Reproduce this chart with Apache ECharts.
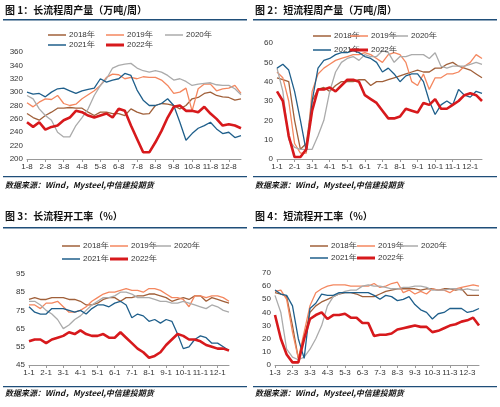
<!DOCTYPE html><html><head><meta charset="utf-8"><script src="https://cdn.jsdelivr.net/npm/echarts@6/dist/echarts.min.js"></script>
<style>html,body{margin:0;padding:0;background:#fff}#c{width:500px;height:407px}</style></head><body><div id="c"></div><script>
const years=['2018年','2019年','2020年','2021年','2022年'];
const colors=['#A0603A','#F4875F','#ABABAB','#1F5F8B','#D7191C'];
const ticks1=['1-8','2-8','3-8','4-8','5-8','6-8','7-8','8-8','9-8','10-8','11-8','12-8'];
const ticks2=['1-1','2-1','3-1','4-1','5-1','6-1','7-1','8-1','9-1','10-1','11-1','12-1'];
const ticks4=['1-3','2-3','3-3','4-3','5-3','6-3','7-3','8-3','9-3','10-3','11-3','12-3'];
// Panel 1: long-process weekly output
const p1_2018=[268,262,258,265,270,276,276,277,276,276,270,265,270,270,268,268,265,275,270,267,268,280,283,282,280,275,280,290,292,298,300,295,293,292,288,290];
const p1_2019=[284,278,285,290,289,295,283,280,282,290,296,302,310,322,327,326,320,322,320,323,322,322,318,310,298,300,306,272,305,312,312,302,305,306,310,298];
const p1_2020=[295,290,275,265,258,240,233,233,250,262,275,295,310,320,336,340,342,343,336,332,330,332,330,325,318,320,316,310,312,313,314,311,310,310,305,296];
const p1_2021=[300,297,298,293,300,305,306,302,298,302,304,306,320,315,318,320,328,325,303,288,280,280,283,290,280,255,228,238,246,250,255,245,238,240,232,235];
const p1_2022=[255,248,255,244,248,250,258,262,272,270,265,262,265,268,262,275,272,250,230,210,210,225,242,262,278,280,272,272,270,278,268,260,250,252,250,246];
// Panel 2: short-process weekly output
const p2_2018=[42,41,40,20,5,8,30,36,37,35,38,40,40,40,41,41,38,40,40,41,42,43,44,45,46,45,45,47,47,49,50,48,47,46,44,42];
const p2_2019=[45,42,30,8,3,3,35,44,47,49,51,52,53,54,54,55,54,52,50,54,55,54,50,40,38,44,36,42,42,44,44,45,48,50,54,52];
const p2_2020=[47,35,10,6,5,5,5,12,20,35,45,50,52,53,51,54,53,53,56,55,50,53,53,54,54,54,52,55,48,47,48,48,48,49,50,49];
const p2_2021=[47,49,46,35,20,4,30,47,51,52,54,55,55,56,55,53,52,50,45,47,44,40,43,44,44,40,30,23,28,30,28,36,33,32,35,34];
const p2_2022=[35,30,12,1,1,5,25,36,36,37,35,38,41,41,40,33,31,29,25,21,21,22,26,25,24,29,28,31,26,26,28,30,33,34,33,30];
// Panel 3: long-process utilization
const p3_2018=[81,82,81,81,82,82,82,81,81,80,78,78,79,81,82,82,80,82,82,83,83,84,84,83,82,80,81,82,81,83,83,80,82,81,80,79];
const p3_2019=[78,78,76,79,79,80,77,74,74,75,77,80,82,84,85,85,86,87,86,86,85,87,87,86,84,82,82,81,77,83,83,82,83,83,82,80];
const p3_2020=[80,80,78,75,73,70,65,67,70,72,75,78,80,82,82,83,85,85,84,82,82,82,81,80,80,79,79,80,79,78,77,76,78,77,75,74];
const p3_2021=[77,74,73,73,76,76,76,75,74,75,73,76,78,78,77,79,80,78,71,73,72,69,70,68,70,69,62,54,55,59,61,60,57,57,55,53];
const p3_2022=[58,59,59,57,59,60,61,63,62,64,62,61,61,62,60,60,63,60,57,54,52,49,50,52,56,59,62,61,59,59,58,56,55,54,54,53];
// Panel 4: short-process utilization
const p4_2018=[55,54,52,30,5,20,40,45,48,50,52,54,55,55,54,52,52,52,54,56,57,58,58,58,58,57,58,58,57,58,58,57,58,53,53,53];
const p4_2019=[56,57,50,25,5,25,45,55,58,60,61,61,61,60,60,60,60,62,59,60,62,63,55,57,54,56,54,58,57,57,55,58,59,60,61,60];
const p4_2020=[53,40,12,6,4,6,12,20,30,45,52,54,56,57,57,60,61,60,60,59,58,58,59,59,60,60,59,57,57,57,58,58,57,58,57,57];
const p4_2021=[57,54,53,45,20,5,43,47,54,53,53,55,55,55,55,55,55,53,50,53,52,49,50,52,46,42,40,35,39,40,43,43,43,40,41,43];
const p4_2022=[38,20,8,2,2,20,35,38,40,35,38,38,39,36,36,32,32,22,23,23,24,27,28,29,30,29,29,25,26,28,30,31,33,34,36,30];

const panels=[
 {title:'图 1：长流程周产量（万吨/周）',ox:0,ty:5,grid:{left:27,top:52,width:214,height:107},ticks:ticks1,min:200,max:360,interval:20,data:[p1_2018,p1_2019,p1_2020,p1_2021,p1_2022],
  leg:[[48,31],[106,31],[165,31],[48,41],[106,41]],rule:19,src:187,bot:176},
 {title:'图 2：短流程周产量（万吨/周）',ox:250,ty:5,grid:{left:277,top:43,width:205,height:116},ticks:ticks2,min:0,max:60,interval:10,data:[p2_2018,p2_2019,p2_2020,p2_2021,p2_2022],
  leg:[[313,32],[350,32],[390,32],[313,46],[350,46]],rule:19,src:187,bot:176},
 {title:'图 3：长流程开工率（%）',ox:0,ty:211,grid:{left:29,top:274,width:200,height:91},ticks:ticks2,min:45,max:95,interval:10,data:[p3_2018,p3_2019,p3_2020,p3_2021,p3_2022],
  leg:[[62,242],[110,242],[153,242],[62,255],[110,255]],rule:227,src:395,bot:386},
 {title:'图 4：短流程开工率（%）',ox:250,ty:211,grid:{left:275,top:273,width:204,height:92},ticks:ticks4,min:0,max:70,interval:10,data:[p4_2018,p4_2019,p4_2020,p4_2021,p4_2022],
  leg:[[310,242],[357,242],[400,242],[310,254],[357,254]],rule:227,src:395,bot:386}
];
const option={animation:false,grid:[],xAxis:[],yAxis:[],series:[],legend:[],graphic:[]};
panels.forEach((p,pi)=>{
  option.grid.push(p.grid);
  const cats=[];for(let i=0;i<36;i++)cats.push(i%3===0?p.ticks[i/3]:' '+i);
  option.xAxis.push({type:'category',gridIndex:pi,data:cats,boundaryGap:false,
    axisLine:{lineStyle:{color:'#999'}},axisTick:{show:true,interval:2,lineStyle:{color:'#999'},length:3},
    axisLabel:{interval:2,fontSize:8,color:'#333',margin:4,fontFamily:'Liberation Sans'}});
  option.yAxis.push({type:'value',gridIndex:pi,min:p.min,max:p.max,interval:p.interval,splitLine:{show:false},
    axisLine:{show:false},axisTick:{show:false},axisLabel:{fontSize:8,color:'#333',margin:4,fontFamily:'Liberation Sans'}});
  p.data.forEach((d,si)=>{
    option.series.push({type:'line',name:years[si]+pi,xAxisIndex:pi,yAxisIndex:pi,data:d,symbol:'none',
      lineStyle:{color:colors[si],width:si===4?2.6:1.3},itemStyle:{color:colors[si]},z:si===4?5:3});
    option.legend.push({data:[years[si]+pi],left:p.leg[si][0],top:p.leg[si][1],itemWidth:18,itemHeight:si===4?3:1.5,itemGap:4,
      icon:'rect',formatter:()=>years[si],textStyle:{fontSize:8,color:'#333',fontFamily:'Liberation Sans',padding:[0,0,0,-2]},padding:0,selectedMode:false});
  });
  option.graphic.push({type:'text',left:p.ox+5,top:p.ty,style:{text:p.title,font:'bold 10px "Noto Sans CJK SC"',fill:'#111'}});
  option.graphic.push({type:'rect',shape:{x:p.ox+3,y:p.rule,width:244,height:1.5},style:{fill:'#1F4E79'}});
  option.graphic.push({type:'rect',shape:{x:p.ox+3,y:p.bot,width:244,height:1.2},style:{fill:'#1F4E79'}});
  option.graphic.push({type:'text',left:p.ox+5,top:p.src-6,style:{text:'数据来源：Wind，Mysteel,中信建投期货',font:'italic bold 8px "Noto Sans CJK SC"',fill:'#111'}});
});
const ch=echarts.init(document.getElementById('c'));
ch.setOption(option);
</script></body></html>
